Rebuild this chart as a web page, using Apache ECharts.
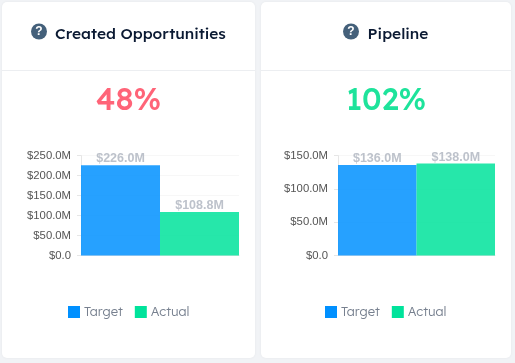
<!DOCTYPE html>
<html><head><meta charset="utf-8">
<style>html,body{margin:0;padding:0;background:#f1f3f6}#c{width:515px;height:363px}</style>
<script src="https://cdn.jsdelivr.net/npm/echarts@6/dist/echarts.min.js"></script>
</head><body><div id="c"></div>
<script>
const titles = ['Created Opportunities', 'Pipeline'];
const percents = ['48%', '102%'];
const percentColors = ['#ff6478', '#1ee39b'];
const seriesNames = ['Target', 'Actual'];
const created = [226.0, 108.8];
const pipeline = [136.0, 138.0];
const axisMax = [250, 150];
const axisStep = [50, 50];
const seriesColors = ['#0090ff', '#00e39b'];

const UI = 'Lexend, Inter, "Noto Sans", sans-serif';
const fmt = v => v === 0 ? '$0.0' : '$' + v.toFixed(1) + 'M';
const chart = echarts.init(document.getElementById('c'), null, {renderer: 'canvas'});

const cards = [
  {x: 2, w: 253, cx: 128.5, gl: 81, gw: 158, tx: 140.5, ix: 39},
  {x: 261, w: 250, cx: 386, gl: 338, gw: 157, tx: 398, ix: 351}
];
const graphic = [];
cards.forEach((c, i) => {
  graphic.push({type: 'rect', z: -10, silent: true, shape: {x: c.x, y: 2, width: c.w, height: 356, r: 5},
    style: {fill: '#fff', shadowBlur: 3, shadowColor: 'rgba(0,0,0,0.05)'}});
  graphic.push({type: 'line', z: -9, silent: true, shape: {x1: c.x, y1: 70.5, x2: c.x + c.w, y2: 70.5},
    style: {stroke: '#eceef1', lineWidth: 1}});
  graphic.push({type: 'circle', z: 1, silent: true, shape: {cx: c.ix, cy: 31.5, r: 8}, style: {fill: '#44607a'}});
  graphic.push({type: 'text', z: 2, silent: true, style: {x: c.ix, y: 32, text: '?', fill: '#fff',
    font: 'bold 12px "Liberation Sans"', align: 'center', verticalAlign: 'middle'}});
});

const option = {
  animation: false,
  backgroundColor: '#f1f3f6',
  graphic,
  title: [
    ...titles.map((t, i) => ({text: t, padding: 0, left: cards[i].tx, top: 34, textAlign: 'center', textVerticalAlign: 'middle',
      textStyle: {fontFamily: UI, fontSize: 15.5, fontWeight: 500, color: '#0b1a33'}})),
    ...percents.map((t, i) => ({text: t, padding: 0, left: cards[i].cx, top: 101, textAlign: 'center', textVerticalAlign: 'middle',
      textStyle: {fontFamily: UI, fontSize: 31, fontWeight: 500, color: percentColors[i]}}))
  ],
  legend: cards.map((c, i) => ({
    data: seriesNames, padding: 0, left: i ? 325 : 68, top: 305.5, itemWidth: 12, itemHeight: 12, itemGap: 12,
    icon: 'rect', itemStyle: {opacity: 1},
    textStyle: {fontFamily: UI, fontSize: 13, fontWeight: 300, color: '#77808f', padding: [0,0,0,-1]}
  })),
  grid: cards.map(c => ({left: c.gl, width: c.gw, top: 155.6, height: 100})),
  xAxis: cards.map((c, i) => ({
    gridIndex: i, type: 'category', data: seriesNames,
    axisLabel: {show: false},
    axisLine: {lineStyle: {color: '#e6e6e6'}},
    axisTick: {lineStyle: {color: '#e6e6e6'}, length: 5}
  })),
  yAxis: cards.map((c, i) => ({
    gridIndex: i, type: 'value', min: 0, max: axisMax[i], interval: axisStep[i],
    axisLabel: {formatter: fmt, fontFamily: '"Liberation Sans"', fontSize: 11.3, color: '#555', margin: 10, padding: [3,0,0,0]},
    axisLine: {show: true, lineStyle: {color: '#e6e6e6'}},
    axisTick: {show: true, length: 4, lineStyle: {color: '#e6e6e6'}},
    splitLine: {lineStyle: {color: '#f7f7f7'}}
  })),
  series: [created, pipeline].flatMap((vals, i) => seriesNames.map((name, k) => ({
    type: 'bar', name, xAxisIndex: i, yAxisIndex: i, stack: 's' + i, barWidth: '100%',
    data: seriesNames.map((_, j) => j === k ? vals[k] : '-'),
    itemStyle: {color: seriesColors[k], opacity: 0.85},
    label: {show: true, position: 'top', distance: 0, formatter: p => fmt(p.value),
      fontFamily: '"Liberation Sans"', fontSize: 12.5, fontWeight: 'bold', color: '#b2b7c2'}
  })))
};
chart.setOption(option);
</script></body></html>
